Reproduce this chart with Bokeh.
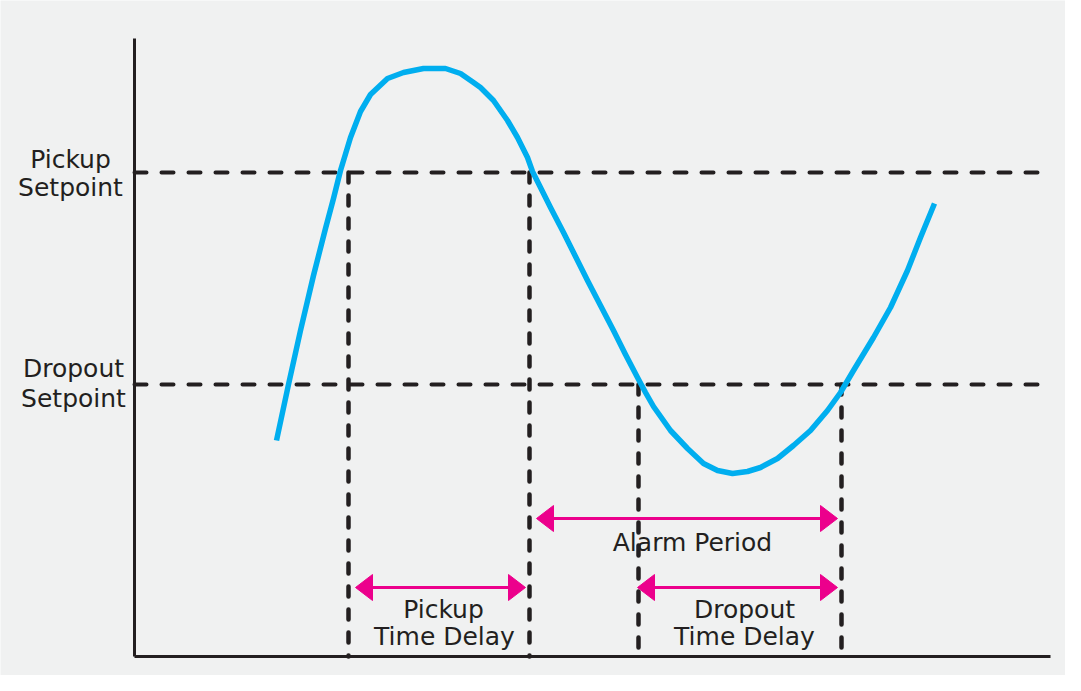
from bokeh.plotting import figure
from bokeh.models import Range1d, ColumnDataSource
from bokeh.core.properties import value
from bokeh.embed import file_html
from bokeh.resources import INLINE

# ---- data (time on x, level on y, in drawing units; y grows downward) ----
curve_t = [276, 288, 300, 313, 325, 333, 340, 350, 360, 370, 387, 403, 423, 445, 460,
           473, 480, 493, 507, 517, 527, 532, 540, 550, 563, 575, 587, 600, 613, 625,
           637, 645, 653, 670, 687, 703, 717, 732, 747, 760, 777, 793, 810, 827, 840,
           853, 873, 890, 907, 920, 934]
curve_v = [440, 384, 330, 275, 228, 198, 170, 137, 111, 94, 78, 72, 68, 68, 73,
           82, 87, 100, 120, 137, 157, 171, 187, 207, 232, 256, 280, 305, 330, 354,
           377, 392, 406, 430, 448, 463, 470, 473, 471, 467, 458, 445, 430, 410, 392,
           370, 337, 307, 270, 237, 203]

axis_x0 = 134
axis_x1 = 1050
axis_top = 38
axis_bottom = 656

setpoint_names = ["Pickup", "Dropout"]
setpoint_levels = [172, 384]

event_times = [348, 529, 638, 841]
event_levels = [172, 172, 384, 384]

arrow_names = ["Alarm Period", "Pickup Time Delay", "Dropout Time Delay"]
arrow_start = [536, 355, 637]
arrow_end = [837, 525, 837]
arrow_y = [518, 587, 587]

label_text = ["Pickup", "Setpoint", "Dropout", "Setpoint",
              "Alarm Period", "Pickup", "Time Delay", "Dropout", "Time Delay"]
label_x = [70, 70, 73, 73, 692, 443, 444, 744, 744]
label_y = [159, 187, 368, 398, 542, 609, 636, 609, 636]

# ---- styles ----
BG = "#f0f1f1"
INK = "#231f20"
BLUE = "#00aeef"
MAGENTA = "#ec008c"
HEAD_LEN = 17
HEAD_HALF = 13

p = figure(width=1065, height=675, output_backend="svg", toolbar_location=None,
           x_range=Range1d(0, 1065), y_range=Range1d(675, 0),
           x_axis_location=None, y_axis_location=None,
           min_border=0, min_border_left=0, min_border_right=0,
           min_border_top=0, min_border_bottom=0)
p.background_fill_color = BG
p.border_fill_color = BG
p.outline_line_color = None
p.grid.visible = False

# axes
p.segment(x0=[axis_x0, axis_x0], y0=[axis_top, axis_bottom],
          x1=[axis_x0, axis_x1], y1=[axis_bottom, axis_bottom],
          line_color=INK, line_width=3)

# setpoint dashed lines
p.segment(x0=[axis_x0] * len(setpoint_levels), y0=setpoint_levels,
          x1=[axis_x1] * len(setpoint_levels), y1=setpoint_levels,
          line_color=INK, line_width=4, line_dash="12 15", line_cap="round")

# event vertical dashed lines
p.segment(x0=event_times, y0=event_levels,
          x1=event_times, y1=[axis_bottom] * len(event_times),
          line_color=INK, line_width=4.5, line_dash="10 13", line_cap="round")

# signal curve
p.line(curve_t, curve_v, line_color=BLUE, line_width=5.5, line_join="round")

# arrows
p.segment(x0=[s + HEAD_LEN - 2 for s in arrow_start], y0=arrow_y,
          x1=[e - HEAD_LEN + 2 for e in arrow_end], y1=arrow_y,
          line_color=MAGENTA, line_width=3)
xs, ys = [], []
for s, e, y in zip(arrow_start, arrow_end, arrow_y):
    xs.append([s, s + HEAD_LEN, s + HEAD_LEN])
    ys.append([y, y - HEAD_HALF, y + HEAD_HALF])
    xs.append([e, e - HEAD_LEN, e - HEAD_LEN])
    ys.append([y, y - HEAD_HALF, y + HEAD_HALF])
p.patches(xs, ys, fill_color=MAGENTA, line_color=MAGENTA, line_width=1)

# labels
src = ColumnDataSource(dict(x=label_x, y=label_y, text=label_text))
p.text(x="x", y="y", text="text", source=src, text_font=value("DejaVu Sans"),
       text_font_size="25px", text_color=INK, text_align="center",
       text_baseline="alphabetic")

open("out.html", "w").write(file_html(p, INLINE))
